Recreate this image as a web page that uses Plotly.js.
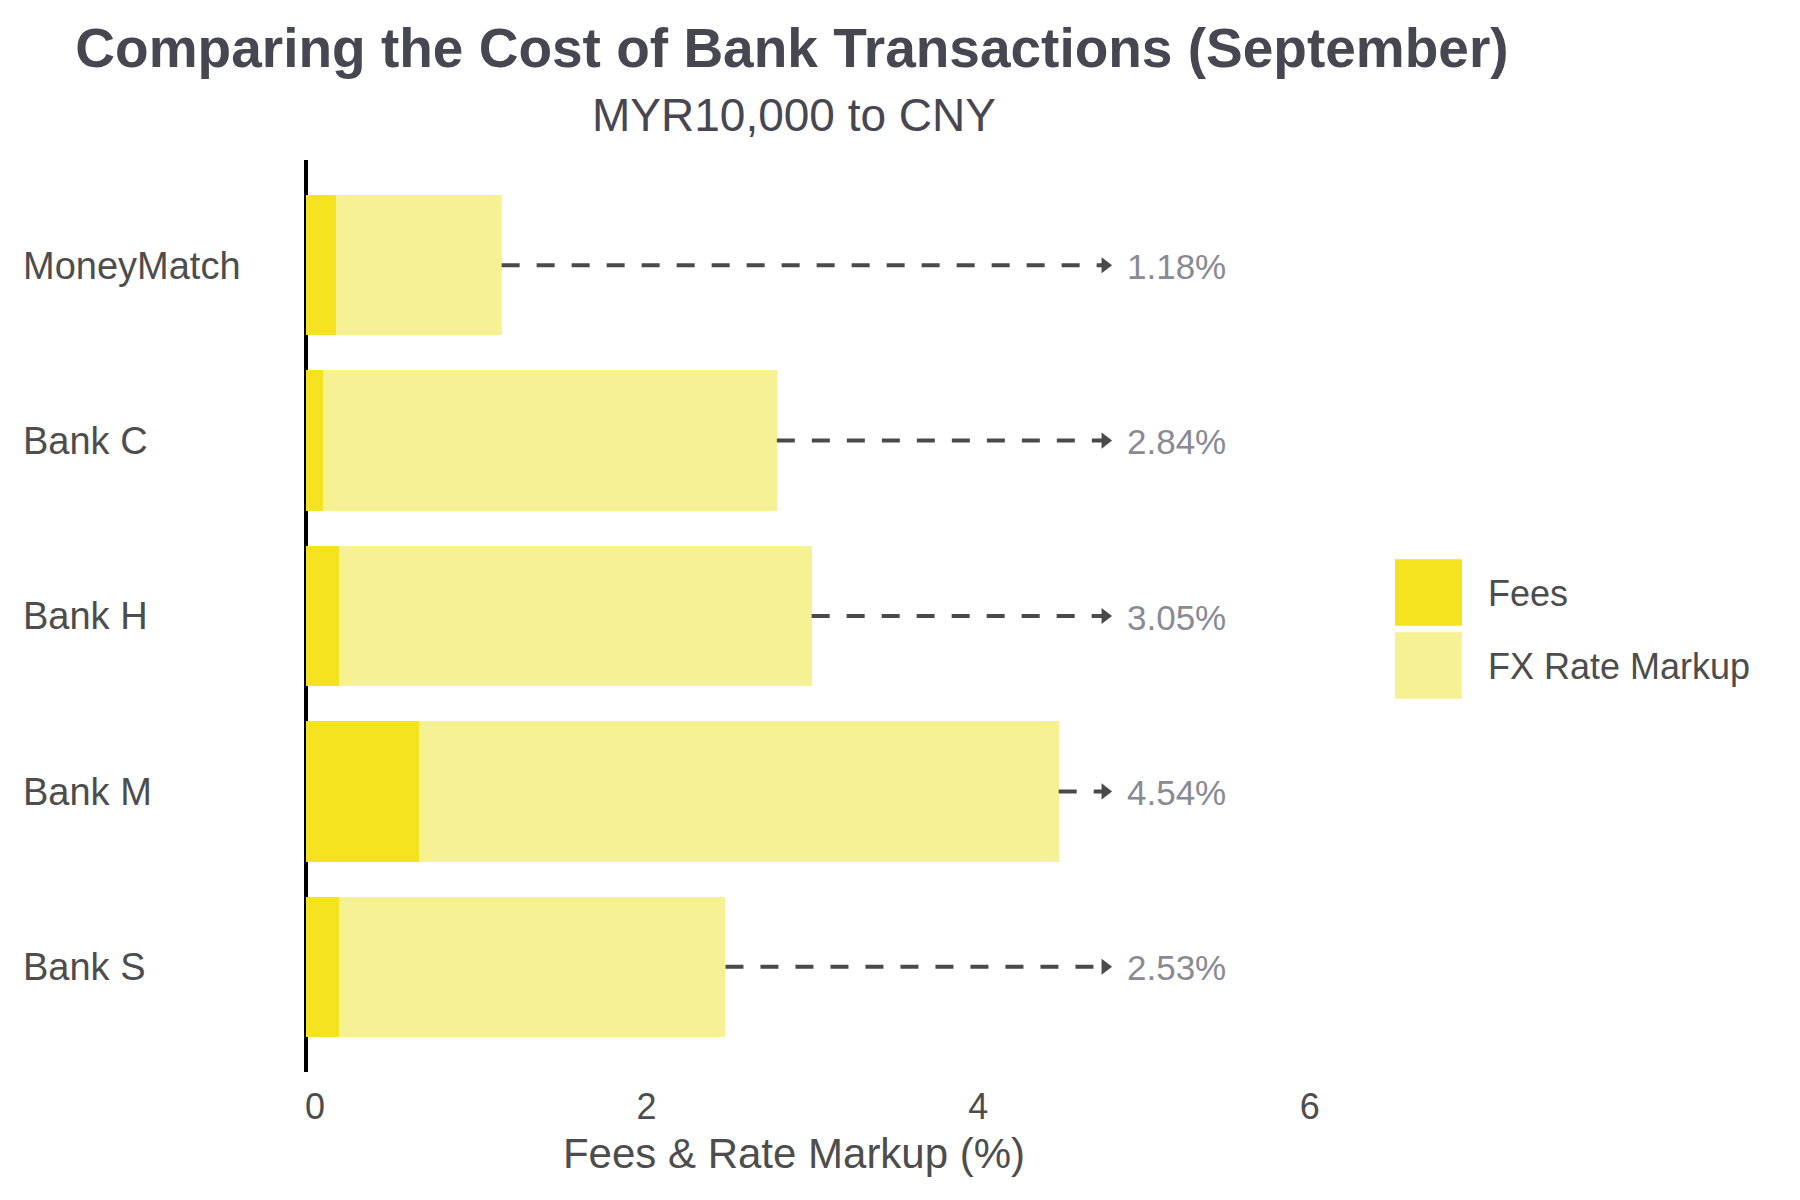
<!DOCTYPE html>
<html>
<head>
<meta charset="utf-8">
<script src="https://cdn.plot.ly/plotly-3.0.1.min.js"></script>
<style>html,body{margin:0;padding:0;background:#fff;}#chart{width:1800px;height:1200px;}</style>
</head>
<body>
<div id="chart"></div>
<script>
// ---- data ----
const banks = ["Bank S", "Bank M", "Bank H", "Bank C", "MoneyMatch"];
const fees = [0.20, 0.68, 0.20, 0.10, 0.18];
const markup = [2.33, 3.86, 2.85, 2.74, 1.00];
const seriesNames = ["Fees", "FX Rate Markup"];
const xTicks = [0, 2, 4, 6];
const titleText = "Comparing the Cost of Bank Transactions (September)";
const subtitleText = "MYR10,000 to CNY";
const xTitleText = "Fees & Rate Markup (%)";

// ---- style / layout constants ----
const FONT = "Liberation Sans, Arial, sans-serif";
const feeColor = "#F5E31F";
const markupColor = "#F6F193";
const arrowEnd = 4.82;
const labelX = 4.94;
const L = 279, R = 1309, T = 160, B = 1071.6;
const W = R - L, H = B - T;
const px = x => (x - L) / W;
const py = y => (B - y) / H;

const totals = fees.map((f, i) => f + markup[i]);

const lineX = [], lineY = [];
banks.forEach((b, i) => { lineX.push(totals[i], arrowEnd, null); lineY.push(b, b, null); });

const traces = [
  {type: "bar", orientation: "h", name: seriesNames[0], y: banks, x: fees,
   marker: {color: feeColor, line: {width: 0}}, showlegend: false, hoverinfo: "skip"},
  {type: "bar", orientation: "h", name: seriesNames[1], y: banks, x: markup,
   marker: {color: markupColor, line: {width: 0}}, showlegend: false, hoverinfo: "skip"},
  {type: "scatter", mode: "lines", x: lineX, y: lineY, connectgaps: false,
   line: {color: "#4a4a4a", width: 4, dash: "18px,17px"}, showlegend: false, hoverinfo: "skip"},
  {type: "scatter", mode: "markers", x: banks.map(() => arrowEnd), y: banks,
   marker: {symbol: "triangle-right", size: 14, color: "#4a4a4a"}, showlegend: false, hoverinfo: "skip"}
];

const legendColors = [feeColor, markupColor];
const legendTops = [559, 632];
const shapes = seriesNames.map((n, i) => ({
  type: "rect", xref: "paper", yref: "paper",
  x0: px(1395), x1: px(1462), y0: py(legendTops[i]), y1: py(legendTops[i] + 66.5),
  fillcolor: legendColors[i], line: {width: 0}
}));

const annotations = seriesNames.map((n, i) => ({
  text: n, xref: "paper", yref: "paper", x: px(1486), y: py(legendTops[i] + 34),
  xanchor: "left", yanchor: "middle", showarrow: false,
  font: {family: FONT, size: 36, color: "#4d4d4d"}
}));
banks.forEach((b, i) => annotations.push({
  text: totals[i].toFixed(2) + "%", xref: "x", yref: "y", x: labelX, y: b,
  xanchor: "left", yanchor: "middle", yshift: -1, showarrow: false,
  font: {family: FONT, size: 35, color: "#898a94"}
}));
annotations.push({
  text: subtitleText, xref: "paper", yref: "paper", x: px(794), y: py(115),
  xanchor: "center", yanchor: "middle", showarrow: false,
  font: {family: FONT, size: 46, color: "#474752"}
});

const layout = {
  width: 1800, height: 1200,
  paper_bgcolor: "#ffffff", plot_bgcolor: "#ffffff",
  margin: {l: L, r: 1800 - R, t: T, b: 1200 - B, pad: 0},
  font: {family: FONT, color: "#4d4d4d"},
  title: {text: "<b>" + titleText + "</b>", xref: "container", yref: "container",
          x: 792 / 1800, xanchor: "center", y: 1 - 48 / 1200, yanchor: "middle",
          font: {family: FONT, size: 55, color: "#474752"}},
  barmode: "stack", bargap: 0.2,
  showlegend: false,
  xaxis: {range: [-0.163, 6.05], tickvals: xTicks, ticktext: xTicks.map(String),
          showgrid: false, zeroline: true, zerolinecolor: "#000000", zerolinewidth: 4,
          showline: false, ticks: "", ticklabelshift: 9, ticklabelstandoff: 10,
          tickfont: {family: FONT, size: 36, color: "#4d4d4d"},
          title: {text: xTitleText, standoff: 12, font: {family: FONT, size: 42, color: "#4d4d4d"}}},
  yaxis: {range: [-0.6, 4.6], type: "category", categoryorder: "array", categoryarray: banks,
          showgrid: false, zeroline: false, showline: false, ticks: "",
          ticklabelposition: "inside", ticklabelstandoff: -(L - 20),
          tickfont: {family: FONT, size: 38, color: "#4d4d4d"}},
  shapes: shapes,
  annotations: annotations
};

Plotly.newPlot("chart", traces, layout, {displayModeBar: false, staticPlot: true});
</script>
</body>
</html>
